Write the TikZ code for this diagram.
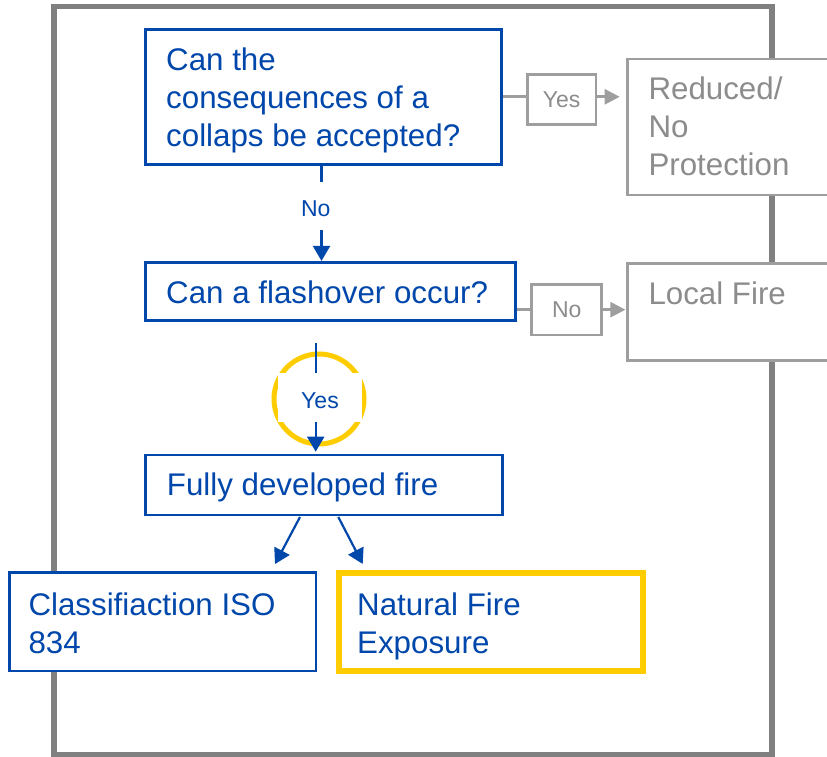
\documentclass[tikz,border=0pt]{standalone}
\usepackage{fontspec}
\setmainfont{Liberation Sans}
\usetikzlibrary{arrows.meta,calc}
\definecolor{fblue}{RGB}{0,71,171}
\definecolor{fyellow}{RGB}{255,204,0}
\definecolor{fframe}{RGB}{128,128,128}
\definecolor{fgrayline}{RGB}{158,158,158}
\definecolor{fgraytext}{RGB}{140,140,140}
% multi-line left aligned text whose baseline is the first line
\newcommand{\mlines}[1]{\begin{tabular}[t]{@{}l@{}}#1\end{tabular}}
\begin{document}
\begin{tikzpicture}[x=1pt,y=-1pt,
  box/.style={draw, rectangle, inner sep=0pt, line width=2.6pt, fill=white},
  bluebox/.style={box, draw=fblue},
  graybox/.style={box, draw=fgrayline},
  yellowbox/.style={box, draw=fyellow, line width=5.5pt},
  body/.style={anchor=base west, inner sep=0pt, font=\fontsize{31.3}{38}\selectfont},
  small/.style={inner sep=0pt, font=\fontsize{23}{28}\selectfont},
  blueline/.style={draw=fblue, line width=2.2pt},
  bluearrow/.style={blueline, -{Triangle[length=15pt,width=17pt]}},
  grayline/.style={draw=fgrayline, line width=2.6pt},
  grayarrow/.style={grayline, -{Triangle[length=15pt,width=15pt]}},
]
\clip (0,0) rectangle (827,757);

% outer frame
\draw[fframe, line width=5.5pt] (54,6.7) rectangle (772,754.5);

% boxes
\node[bluebox, minimum width=356pt, minimum height=135pt] (q1) at (323.7,96.8) {};
\node[graybox, minimum width=220pt, minimum height=136pt] (red) at (737.7,127) {};
\node[graybox, minimum width=68.7pt, minimum height=50.4pt, small, text=fgraytext] (yesA) at (561.7,99.5) {Yes};

\node[bluebox, minimum width=370pt, minimum height=58pt] (q2) at (330.7,291.7) {};
\node[graybox, minimum width=220pt, minimum height=97.4pt] (local) at (737.7,312) {};
\node[graybox, minimum width=70pt, minimum height=50.7pt, small, text=fgraytext] (noB) at (566.7,309.7) {No};

\node[bluebox, minimum width=356.6pt, minimum height=60pt] (q3) at (324,485) {};
\node[bluebox, minimum width=306.7pt, minimum height=98.3pt] (c4) at (162.7,621.9) {};
\node[yellowbox, minimum width=304pt, minimum height=98pt] (c5) at (491,622) {};

% texts
\node[body, text=fblue] (q1t) at (166,70.7) {\mlines{Can the\\consequences of a\\collaps be accepted?}};
\node[body, text=fblue] (q2t) at (166,303.5) {Can a flashover occur?};
\node[body, text=fblue] (q3t) at (166.7,495) {Fully developed fire};
\node[body, text=fblue] (c4t) at (28.3,615) {\mlines{Classifiaction ISO\\834}};
\node[body, text=fblue] (c5t) at (357,615) {\mlines{Natural Fire\\Exposure}};
\node[body, text=fgraytext] (redt) at (648.3,100) {\mlines{Reduced/\\No\\Protection}};
\node[body, text=fgraytext] (localt) at (648.3,304) {Local Fire};

% gray side branches
\draw[grayline] (q1.east) -- (q1.east -| yesA.west);
\draw[grayarrow, shorten >=6.7pt] (q1.east -| yesA.east) -- (q1.east -| red.west);
\draw[grayline] (noB.west -| q2.east) -- (noB.west);
\draw[grayarrow, shorten >=1pt] (noB.east) -- (noB.east -| local.west);

% "No" between first and second question
\coordinate (axisA) at (321.5,0);
\node[small, text=fblue, minimum width=40pt, minimum height=48.3pt, text height=21.1pt, text depth=0pt] (noA) at (315.7,206) {No};
\draw[blueline] (q1.south -| axisA) -- (noA.north -| axisA);
\draw[bluearrow, shorten >=0.5pt] (noA.south -| axisA) -- (q2.north -| axisA);

% highlighted "Yes" between second question and fully developed fire
\coordinate (axisB) at (315.7,0);
\coordinate (ystart) at (315.7,343.3);
\node[circle, draw=fyellow, line width=5pt, minimum size=90pt, inner sep=0pt] (ring) at (319,399) {};
\node[small, fill=white, text=fblue, minimum width=84pt, minimum height=49pt, text height=22.5pt, text depth=0pt] (yesB) at (320,397.5) {Yes};
\draw[blueline] (ystart) -- (yesB.north -| axisB);
\draw[bluearrow, shorten >=2pt] (yesB.south -| axisB) -- (q3.north -| axisB);

% two outcomes
\draw[bluearrow] ($(q3.south)+(-24,0.7)$) -- ($(c4.north)+(112.3,-7.4)$);
\draw[bluearrow] ($(q3.south)+(14.3,0.7)$) -- ($(c5.north)+(-128.3,-6.3)$);
\end{tikzpicture}
\end{document}
